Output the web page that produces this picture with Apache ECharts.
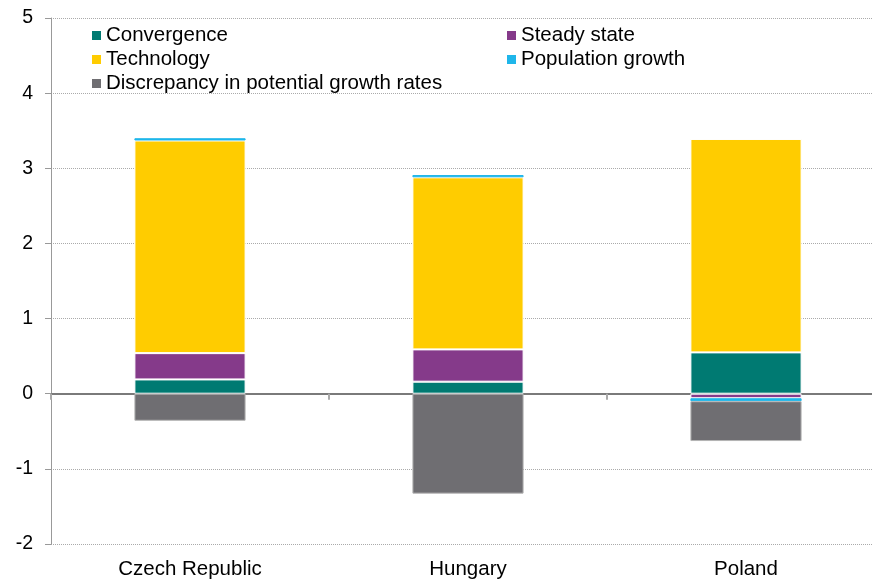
<!DOCTYPE html>
<html>
<head>
<meta charset="utf-8">
<script src="https://cdn.jsdelivr.net/npm/echarts@6/dist/echarts.min.js"></script>
<style>
  html, body { margin: 0; padding: 0; background: #fff; overflow: hidden; }
  #chart { width: 885px; height: 580px; }
</style>
</head>
<body>
<div id="chart"></div>
<script>
// categories
var countries = ['Czech Republic', 'Hungary', 'Poland'];

// contributions, percentage points
var convergence = [0.19, 0.16, 0.55];
var steadyState = [0.35, 0.43, -0.06];
var technology = [2.83, 2.29, 2.84];
var populationGrowth = [0.03, 0.03, -0.04];
var discrepancy = [-0.36, -1.33, -0.53];

var colors = {
    convergence: '#007A72',
    steady: '#853A8A',
    tech: '#FFCC00',
    pop: '#1FB6EA',
    disc: '#6F6E72'
};

var font = 'Liberation Sans, Arial, sans-serif';
// the plot runs past the right edge of the window, so the div is a bit wider than 872
var chart = echarts.init(document.getElementById('chart'), null, {renderer: 'canvas'});

function bar(name, data, color, border) {
    return {
        name: name,
        type: 'bar',
        stack: 'total',
        data: data,
        barWidth: '40%',
        xAxisIndex: 0,
        itemStyle: {color: color, borderColor: border || '#fff', borderWidth: 1},
        emphasis: {disabled: true}
    };
}

var legendBase = {
    orient: 'vertical',
    top: 20,
    itemWidth: 9,
    itemHeight: 9,
    itemGap: 3,
    icon: 'rect',
    itemStyle: {borderWidth: 0},
    textStyle: {fontSize: 20.5, color: '#000', lineHeight: 21, fontFamily: font}
};

chart.setOption({
    animation: false,
    textStyle: {fontFamily: font},
    grid: {left: 51, right: 0, top: 18, bottom: 36},
    legend: [
        Object.assign({}, legendBase, {
            left: 87,
            data: ['Convergence', 'Technology', 'Discrepancy in potential growth rates']
        }),
        Object.assign({}, legendBase, {
            left: 502,
            data: ['Steady state', 'Population growth']
        })
    ],
    xAxis: [
        {
            type: 'category',
            data: countries,
            position: 'bottom',
            axisLine: {onZero: true, lineStyle: {color: '#7a7a7a', width: 2}},
            axisTick: {show: true, length: 6, lineStyle: {color: '#aaa', width: 2}},
            axisLabel: {show: false}
        },
        {
            type: 'category',
            data: countries,
            position: 'bottom',
            axisLine: {show: false, onZero: false},
            axisTick: {show: false},
            axisLabel: {fontSize: 20.5, color: '#000', margin: 15, fontFamily: font}
        }
    ],
    yAxis: {
        type: 'value',
        min: -2,
        max: 5,
        interval: 1,
        axisLine: {show: true, lineStyle: {color: '#999'}},
        axisTick: {show: true, length: 6, lineStyle: {color: '#999'}},
        axisLabel: {fontSize: 19.5, color: '#000', margin: 18, fontFamily: font},
        splitLine: {show: true, lineStyle: {color: '#aaa', type: 'dotted', width: 1}}
    },
    series: [
        bar('Convergence', convergence, colors.convergence),
        bar('Steady state', steadyState, colors.steady),
        bar('Technology', technology, colors.tech),
        bar('Population growth', populationGrowth, colors.pop, colors.pop),
        bar('Discrepancy in potential growth rates', discrepancy, colors.disc, '#b5b5b5')
    ]
});
</script>
</body>
</html>
